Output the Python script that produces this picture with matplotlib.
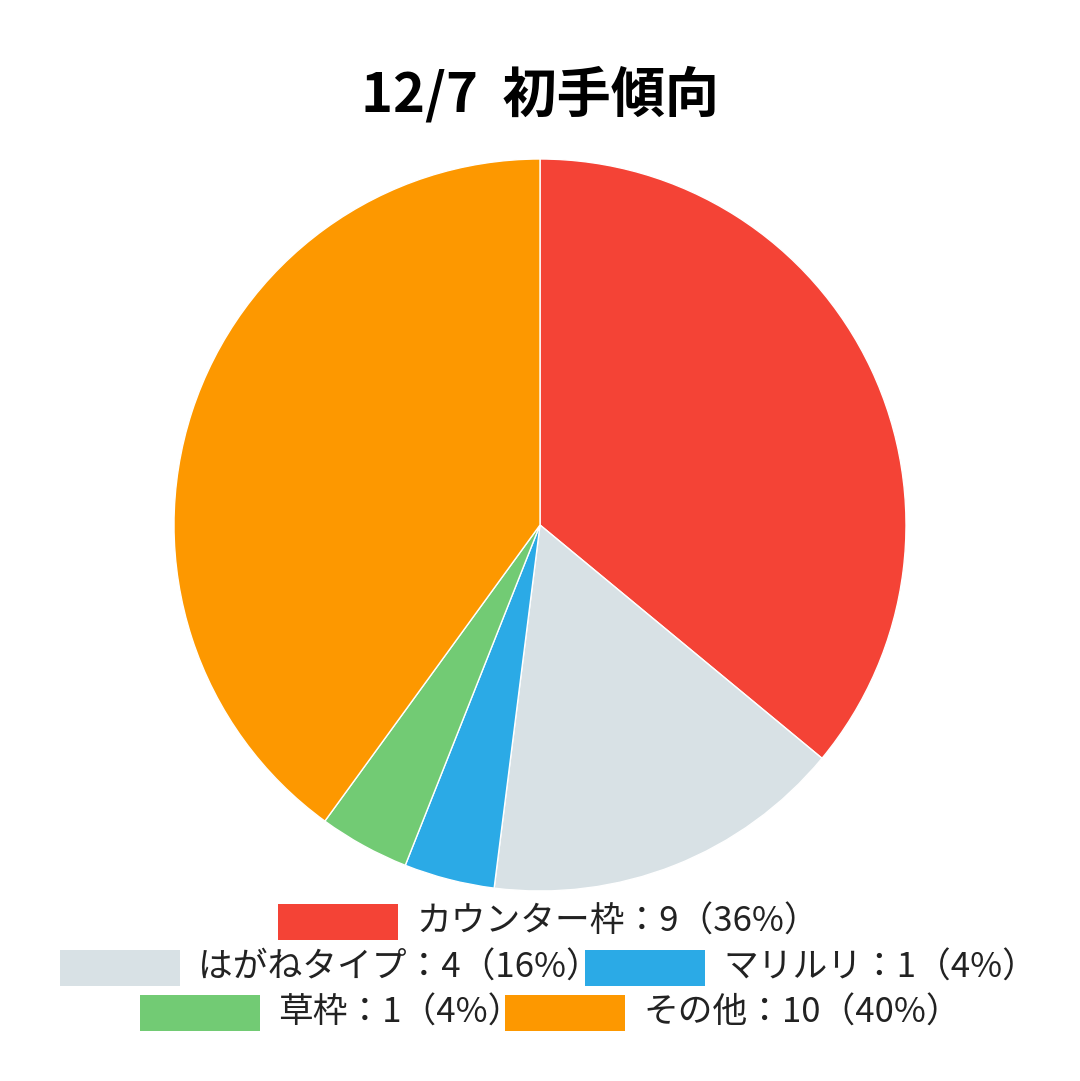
import matplotlib
matplotlib.use("Agg")
import matplotlib.pyplot as plt
from matplotlib.patches import Rectangle

plt.rcParams['font.family'] = ['Noto Sans CJK JP', 'DejaVu Sans']

title = "12/7  初手傾向"
categories = ["カウンター枠", "はがねタイプ", "マリルリ", "草枠", "その他"]
values = [9, 4, 1, 1, 10]
colors = ["#F44336", "#D8E1E5", "#2BAAE6", "#72CB74", "#FD9800"]

W, H = 1080, 1081
fig = plt.figure(figsize=(W / 100, H / 100), dpi=100)
fig.patch.set_facecolor("white")

cx, cy, r = 540, 525, 366
ax = fig.add_axes([(cx - r) / W, (H - (cy + r)) / H, 2 * r / W, 2 * r / H])
ax.pie(values, colors=colors, startangle=90, counterclock=False, radius=1,
       wedgeprops=dict(edgecolor="white", linewidth=1))
ax.set_xlim(-1, 1)
ax.set_ylim(-1, 1)
ax.set_aspect("equal")
ax.axis("off")

fig.text(0.5, 1 - 95 / H, title, ha="center", va="center",
         fontsize=39, fontweight="bold", color="black")

total = sum(values)
labels = [f"{c}：{v}（{round(v / total * 100)}%）" for c, v in zip(categories, values)]

# legend layout (pixel positions): rect left x, row center y
rows = [[0], [1, 2], [3, 4]]
rect_x = [278, 60, 585, 140, 505]
row_y = [922, 968, 1013]
rw, rh = 120, 36
idx_row = {}
for ri, row in enumerate(rows):
    for i in row:
        idx_row[i] = ri
for i, lab in enumerate(labels):
    yc = row_y[idx_row[i]]
    x0 = rect_x[i]
    fig.patches.append(Rectangle((x0 / W, 1 - (yc + rh / 2) / H), rw / W, rh / H,
                                 transform=fig.transFigure, facecolor=colors[i],
                                 edgecolor="none"))
    fig.text((x0 + rw + 18) / W, 1 - yc / H, lab, ha="left", va="center",
             fontsize=25, color="#222222")

fig.savefig("out.png", dpi=100, facecolor="white")
